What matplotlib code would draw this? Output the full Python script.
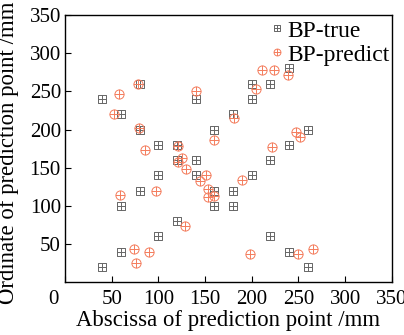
import numpy as np
import matplotlib
matplotlib.use('Agg')
import matplotlib.pyplot as plt
import matplotlib.transforms as mtransforms
from matplotlib.path import Path

plt.rcParams['font.family'] = ['Liberation Serif', 'DejaVu Serif']

# true positions of the points (mm)
true_x = [40, 40, 60, 60, 60, 80, 80, 80, 100, 100, 100, 120, 120, 120,
          140, 140, 140, 160, 160, 160, 180, 180, 180, 200, 200, 200,
          220, 220, 220, 240, 240, 240, 260, 260]
true_y = [240, 20, 220, 100, 40, 260, 200, 120, 180, 140, 60, 180, 160, 80,
          240, 160, 140, 200, 120, 100, 220, 120, 100, 260, 240, 140,
          260, 160, 60, 280, 180, 40, 200, 20]

# BP network predictions (mm)
pred_x = [58, 52, 78, 79, 86, 121, 140, 159, 211, 224, 239, 204, 181, 247,
          252, 222, 121, 125, 129, 151, 145, 153, 153, 159, 59, 97, 128,
          74, 90, 76, 190, 198, 249, 265]
pred_y = [247, 220, 260, 202, 173, 179, 251, 186, 278, 278, 271, 253, 215,
          197, 190, 177, 158, 162, 148, 140, 133, 122, 112, 113, 114, 119,
          74, 44, 39, 25, 134, 37, 37, 44]

ticks = [0, 50, 100, 150, 200, 250, 300, 350]

# square with a plus inside, circle with a plus inside
M, L, C = Path.MOVETO, Path.LINETO, Path.CLOSEPOLY
sq_plus = Path([(-1, -1), (1, -1), (1, 1), (-1, 1), (-1, -1),
                (0, -1), (0, 1), (-1, 0), (1, 0)],
               [M, L, L, L, C, M, L, M, L])
circ_plus = Path.make_compound_path(Path.unit_circle(),
                                    Path([(0, -1), (0, 1)], [M, L]),
                                    Path([(-1, 0), (1, 0)], [M, L]))

fig = plt.figure(figsize=(4.04, 3.35), dpi=100)
ax = fig.add_axes([0.161, 0.158, 0.809, 0.797])

ax.plot(true_x, true_y, ls='none', marker=sq_plus, ms=5.8, mfc='none',
        mec='#666666', mew=0.7, label='BP-true')
ax.plot(pred_x, pred_y, ls='none', marker=circ_plus, ms=6.6, mfc='none',
        mec='#f47c5c', mew=0.7, label='BP-predict')

ax.set_xlim(0, 350)
ax.set_ylim(0, 350)
ax.set_xticks(ticks)
ax.set_yticks(ticks[1:])
ax.tick_params(direction='in', length=4, width=0.8, labelsize=15)
ax.tick_params(axis='x', pad=5.5)
ax.tick_params(axis='y', pad=3)
# the corner "0" sits a little left of the origin
lab0 = ax.xaxis.get_major_ticks()[0].label1
lab0.set_transform(lab0.get_transform() +
                   mtransforms.ScaledTranslation(-0.12, 0, fig.dpi_scale_trans))
for s in ax.spines.values():
    s.set_linewidth(1.0)

ax.set_xlabel('Abscissa of prediction point /mm', fontsize=16.4, labelpad=1)
ax.set_ylabel('Ordinate of prediction point /mm', fontsize=16.4)
ax.yaxis.set_label_coords(-0.14, 0.483)

ax.legend(loc='upper right', bbox_to_anchor=(1.0, 0.99), frameon=False,
          fontsize=17, markerscale=0.75, handlelength=0.5, handletextpad=0.2,
          labelspacing=0.1, borderaxespad=0.0, borderpad=0.1)

fig.savefig('out.png', dpi=100)
